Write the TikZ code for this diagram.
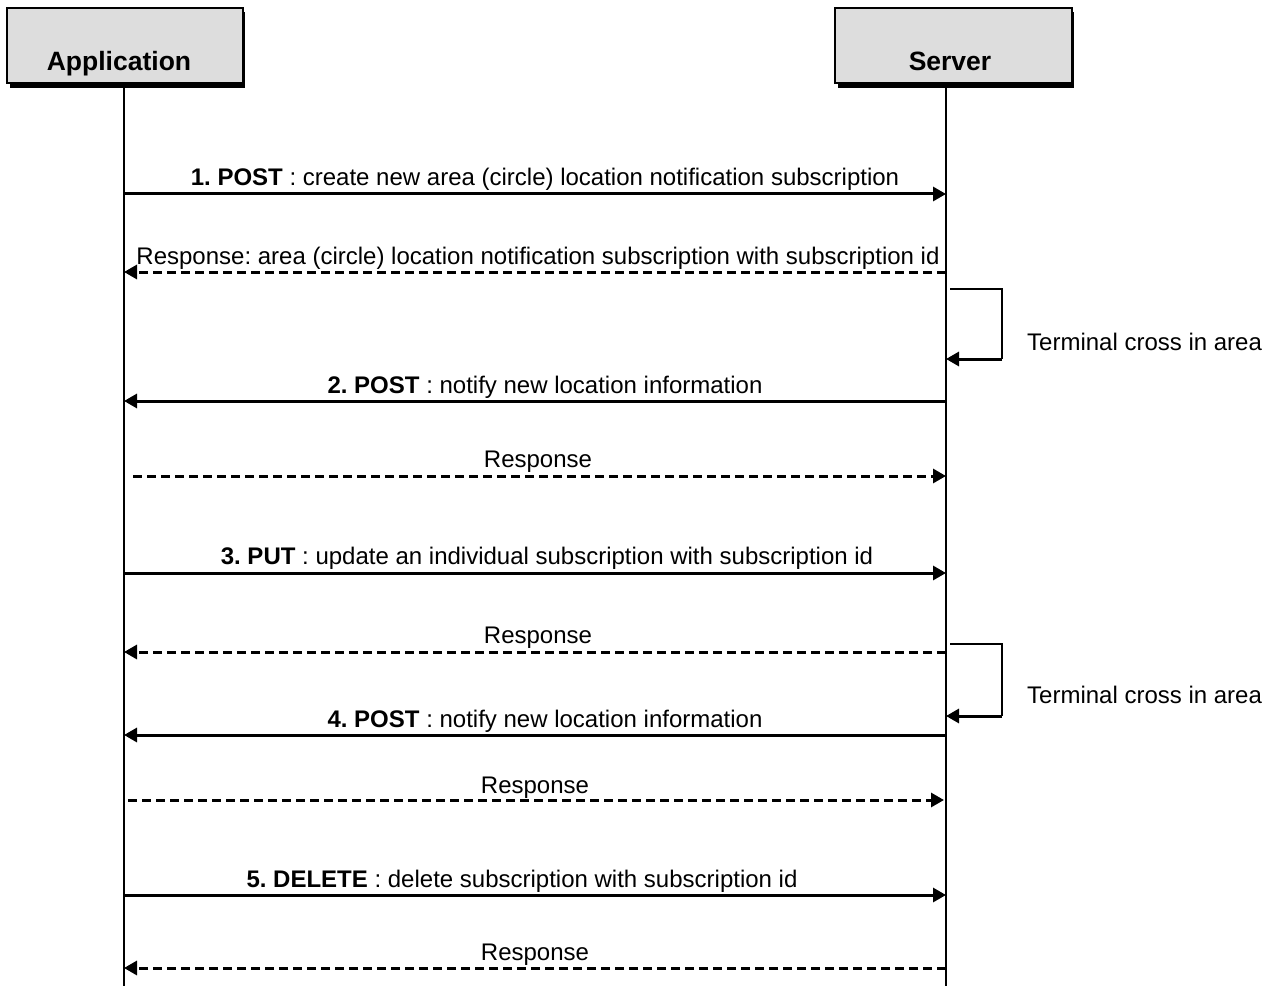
\documentclass[tikz,border=0pt]{standalone}
\usepackage{fontspec}
\setmainfont{Liberation Sans}
\usetikzlibrary{arrows.meta}
\frenchspacing
\begin{document}
\begin{tikzpicture}[x=1pt,y=-1pt,
  lifeline/.style={line width=1.4pt},
  hdrbox/.style={draw=black,line width=1.2pt,fill=hdrgray},
  hdrshadow/.style={fill=black,draw=none},
  hdrtext/.style={font=\fontsize{26.5}{30}\selectfont\bfseries,anchor=base,inner sep=0pt},
  lbl/.style={font=\fontsize{24}{28}\selectfont,anchor=base,inner sep=0pt},
  sync/.style={line width=3pt,-{Triangle[length=13pt,width=14pt]}},
  reply/.style={line width=3pt,dash pattern=on 9pt off 5pt,-{Triangle[length=13pt,width=14pt]}},
  loopline/.style={line width=1.6pt},
]
\definecolor{hdrgray}{HTML}{DDDDDD}
\useasboundingbox (0,0) rectangle (1269,987);
% header boxes
\fill[hdrshadow] (10,12) rectangle (245,88);
\draw[hdrbox] (7,8) rectangle (243,83);
\node[hdrtext] (app) at (119,71) {Application};
\fill[hdrshadow] (838,12) rectangle (1074,88);
\draw[hdrbox] (835,8) rectangle (1072,83);
\node[hdrtext] (srv) at (950,71) {Server};
% lifelines
\coordinate (appTop) at (124,88);
\coordinate (appBot) at (124,986);
\coordinate (srvTop) at (946,88);
\coordinate (srvBot) at (946,986);
\draw[lifeline] (appTop) -- (appBot);
\draw[lifeline] (srvTop) -- (srvBot);
% message 1
\coordinate (a1) at (124,194); \coordinate (s1) at (946,194);
\draw[sync] (a1) -- (s1);
\node[lbl] (l1) at (545,186) {\textbf{1. POST} : create new area (circle) location notification subscription};
% response 1
\coordinate (s2) at (946,272); \coordinate (a2) at (124,272);
\draw[reply] (s2) -- (a2);
\node[lbl] (l2) at (538,264) {Response: area (circle) location notification subscription with subscription id};
% loop 1
\coordinate (p1) at (950,289); \coordinate (p2) at (1002,289);
\coordinate (p3) at (1002,359); \coordinate (p4) at (946,359);
\draw[loopline] (p1) -- (p2) -- (p3);
\draw[sync] (p3) -- (p4);
\node[lbl,anchor=base west] (t1) at (1027,350) {Terminal cross in area};
% message 2
\coordinate (s3) at (946,401); \coordinate (a3) at (124,401);
\draw[sync] (s3) -- (a3);
\node[lbl] (l3) at (545,393) {\textbf{2. POST} : notify new location information};
% response 2
\coordinate (a4) at (133,476); \coordinate (s4) at (946,476);
\draw[reply] (a4) -- (s4);
\node[lbl] (l4) at (538,467) {Response};
% message 3
\coordinate (a5) at (124,573); \coordinate (s5) at (946,573);
\draw[sync] (a5) -- (s5);
\node[lbl] (l5) at (547,564) {\textbf{3. PUT} : update an individual subscription with subscription id};
% response 3
\coordinate (s6) at (946,652); \coordinate (a6) at (124,652);
\draw[reply] (s6) -- (a6);
\node[lbl] (l6) at (538,643) {Response};
% loop 2
\coordinate (q1) at (950,644); \coordinate (q2) at (1002,644);
\coordinate (q3) at (1002,716); \coordinate (q4) at (946,716);
\draw[loopline] (q1) -- (q2) -- (q3);
\draw[sync] (q3) -- (q4);
\node[lbl,anchor=base west] (t2) at (1027,703) {Terminal cross in area};
% message 4
\coordinate (s7) at (946,735); \coordinate (a7) at (124,735);
\draw[sync] (s7) -- (a7);
\node[lbl] (l7) at (545,727) {\textbf{4. POST} : notify new location information};
% response 4
\coordinate (a8) at (128,800); \coordinate (s8) at (944,800);
\draw[reply] (a8) -- (s8);
\node[lbl] (l8) at (535,793) {Response};
% message 5
\coordinate (a9) at (124,895); \coordinate (s9) at (946,895);
\draw[sync] (a9) -- (s9);
\node[lbl] (l9) at (522,887) {\textbf{5. DELETE} : delete subscription with subscription id};
% response 5
\coordinate (s10) at (946,968); \coordinate (a10) at (124,968);
\draw[reply] (s10) -- (a10);
\node[lbl] (l10) at (535,960) {Response};
\end{tikzpicture}
\end{document}
